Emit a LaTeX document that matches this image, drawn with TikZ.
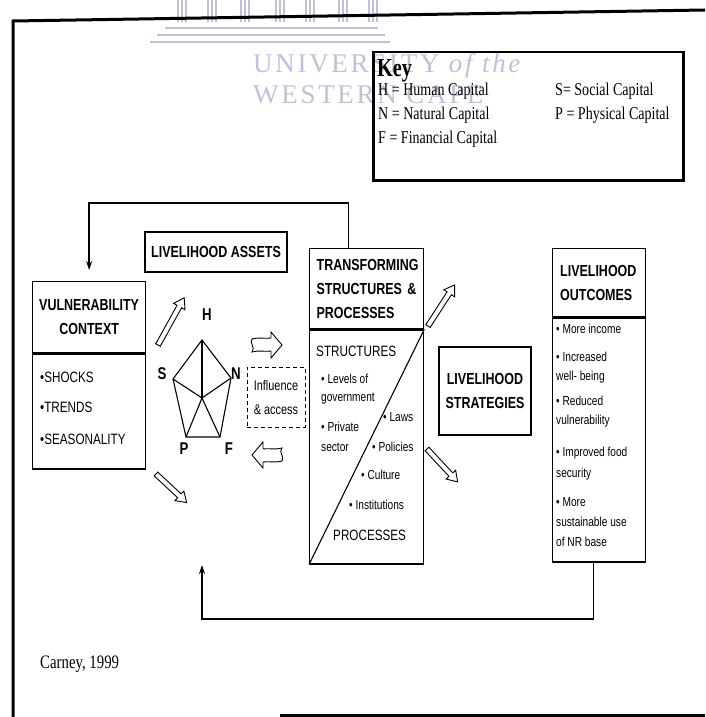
\documentclass[tikz,border=0pt]{standalone}
\usepackage{fontspec}
\setmainfont{Liberation Serif}
\newfontfamily\keyfont[FakeStretch=0.78]{Liberation Serif}
\newfontfamily\slfont[FakeStretch=0.78]{Liberation Sans}
\newfontfamily\wmfont[LetterSpace=10]{Liberation Serif}
\usetikzlibrary{positioning,arrows.meta}
\definecolor{wmgray}{RGB}{192,192,220}

\tikzset{
  box/.style={draw,line width=1.3pt,inner sep=0pt},
  hd/.style={font=\slfont\bfseries\fontsize{16}{24}\selectfont},
  caps/.style={font=\slfont\fontsize{15}{18}\selectfont,inner sep=0pt,anchor=west},
  item/.style={font=\slfont\fontsize{13}{15}\selectfont,inner sep=0pt,anchor=west},
  keytxt/.style={font=\keyfont\fontsize{18}{20}\selectfont,inner sep=0pt,anchor=base west},
  letter/.style={font=\slfont\bfseries\fontsize{17}{20}\selectfont,inner sep=0pt},
  fb/.style={line width=1.6pt,-{Stealth[length=9pt,width=6pt]}},
  slim/.pic={\draw[line width=0.9pt,fill=white,line join=miter]
    (0,2.6) -- (#1-10,2.6) -- (#1-10,6.5) -- (#1,0) -- (#1-10,-6.5) -- (#1-10,-2.6) -- (0,-2.6) -- cycle;},
  flag/.pic={\draw[line width=0.9pt,fill=white]
    (-15,6) .. controls (-7,8) and (-1,6) .. (4,7) -- (4,13) -- (15,0) -- (4,-13) -- (4,-6)
    .. controls (-2,-7) and (-8,-5) .. (-15,-7) .. controls (-11,-3) and (-18,2) .. (-15,6) -- cycle;}
}

\begin{document}
\begin{tikzpicture}[x=1pt,y=1pt,>=Stealth]
  \useasboundingbox[fill=white] (0,0) rectangle (705,-717);
  % watermark of the scan
  \foreach \cx in {182,212,245,280,310,343,373}
    \draw[wmgray,line width=1.2pt] (\cx-4,0) -- (\cx-4,-22) (\cx,0) -- (\cx,-22) (\cx+4,0) -- (\cx+4,-22);
  \draw[wmgray,line width=2pt] (165,-28) -- (378,-28) (157,-35) -- (385,-35) (150,-42) -- (390,-42);
  \node[font=\wmfont\fontsize{27}{28}\selectfont,text=wmgray,anchor=base west,inner sep=0pt] (wm1) at (253,-73) {UNIVERSITY \textit{of the}};
  \node[font=\wmfont\fontsize{27}{28}\selectfont,text=wmgray,anchor=base west,inner sep=0pt] (wm2) at (253,-103) {WESTERN CAPE};

  % frame
  \draw[line width=3pt] (705,-10) -- (13,-21) -- (13,-717);
  \draw[line width=3pt] (280,-715) -- (705,-715);

  % key
  \node[draw,line width=2.5pt,minimum width=310,minimum height=128,anchor=north west] (keybox) at (372,-51) {};
  \node[keytxt,font=\keyfont\bfseries\fontsize{26}{28}\selectfont] (key) at (377,-77) {Key};
  \node[keytxt] (kh) at (378,-95) {H = Human Capital};
  \node[keytxt] (kn) at (378,-119) {N = Natural Capital};
  \node[keytxt] (kf) at (378,-143) {F = Financial Capital};
  \node[keytxt] (ks) at (555,-95) {S= Social Capital};
  \node[keytxt] (kp) at (555,-119) {P = Physical Capital};

  % vulnerability context
  \node[box,hd,align=center,minimum width=113,minimum height=71,anchor=north west] (vchead) at (32,-281) {VULNERABILITY\\CONTEXT};
  \node[box,minimum width=113,minimum height=115,anchor=north] (vcbody) at (vchead.south) {};
  \node[caps] (shocks) at (40,-377) {•SHOCKS};
  \node[caps] (trends) at (40,-407) {•TRENDS};
  \node[caps] (season) at (40,-439) {•SEASONALITY};

  % livelihood assets
  \node[box,hd,minimum width=142,minimum height=40] (assets) at (216,-252) {LIVELIHOOD ASSETS};
  \coordinate (pc) at (202,-398);
  \coordinate (ph) at (202,-340);
  \coordinate (pn) at (231,-378);
  \coordinate (pf) at (220,-437);
  \coordinate (pp) at (186,-437);
  \coordinate (ps) at (173,-379);
  \draw[line width=1.1pt,line join=miter] (ph) -- (pn) -- (pf) -- (pp) -- (ps) -- cycle;
  \foreach \v in {ph,pn,pf,pp,ps}
    \draw[line width=1.1pt] (pc) -- (\v);
  \node[letter] (lh) at (207,-315) {H};
  \node[letter] (ls) at (162,-374) {S};
  \node[letter] (ln) at (236,-374) {N};
  \node[letter] (lp) at (184,-449) {P};
  \node[letter] (lf) at (229,-449) {F};
  \node[draw,dash pattern=on 4pt off 3pt,line width=0.9pt,minimum width=58,minimum height=60,align=center,
        font=\slfont\fontsize{14}{24}\selectfont,inner sep=0pt] (infl) at (276,-397) {Influence\\\& access};

  % transforming structures & processes
  \node[box,hd,align=left,text width=100,minimum width=114,minimum height=80,anchor=north west] (tsphead) at (309,-248) {TRANSFORMING\\STRUCTURES \&\\PROCESSES};
  \node[box,minimum width=114,minimum height=234,anchor=north] (tspbody) at (tsphead.south) {};
  \draw[line width=1.1pt] (tspbody.south west) -- (tspbody.north east);
  \node[caps] (struct) at (316,-351) {STRUCTURES};
  \node[item] (t1) at (321,-379) {• Levels of};
  \node[item] (t2) at (321,-399) {government};
  \node[item] (t3) at (321,-427) {• Private};
  \node[item] (t4) at (321,-447) {sector};
  \node[item] (t5) at (383,-417) {• Laws};
  \node[item] (t6) at (372,-447) {• Policies};
  \node[item] (t7) at (361,-475) {• Culture};
  \node[item] (t8) at (349,-505) {• Institutions};
  \node[caps] (proc) at (333,-535) {PROCESSES};

  % livelihood strategies
  \node[box,hd,align=center,minimum width=92,minimum height=88] (strat) at (485,-391) {LIVELIHOOD\\STRATEGIES};

  % livelihood outcomes
  \node[box,hd,align=left,text width=78,minimum width=93,minimum height=68,anchor=north west] (ochead) at (552,-248) {LIVELIHOOD\\OUTCOMES};
  \node[box,minimum width=93,minimum height=244,anchor=north] (ocbody) at (ochead.south) {};
  \node[item] (o1) at (556,-329) {• More income};
  \node[item] (o2) at (556,-357) {• Increased};
  \node[item] (o3) at (556,-377) {well- being};
  \node[item] (o4) at (556,-401) {• Reduced};
  \node[item] (o5) at (556,-421) {vulnerability};
  \node[item] (o6) at (556,-453) {• Improved food};
  \node[item] (o7) at (556,-474) {security};
  \node[item] (o8) at (556,-502) {• More};
  \node[item] (o9) at (556,-522) {sustainable use};
  \node[item] (o10) at (556,-542) {of NR base};

  % hollow arrows
  \pic[rotate=61] at (158,-345) {slim=54};
  \pic[rotate=-43] at (156,-474) {slim=42};
  \pic[rotate=57] at (428,-326) {slim=49};
  \pic[rotate=-47] at (427,-449) {slim=45};
  \pic at (267,-345) {flag};
  \pic[rotate=180] at (267,-455) {flag};

  % feedback loops
  \draw[fb] ([xshift=-18pt]tsphead.north) |- ([yshift=78pt]vchead.north) -- ([yshift=11pt]vchead.north);
  \coordinate (loopcorner) at (202,-619);
  \coordinate (loopend) at (202,-565);
  \draw[fb] ([xshift=-5.5pt]ocbody.south) |- (loopcorner) -- (loopend);

  \node[keytxt,font=\keyfont\fontsize{19}{22}\selectfont] (src) at (40,-668) {Carney, 1999};
\end{tikzpicture}
\end{document}
